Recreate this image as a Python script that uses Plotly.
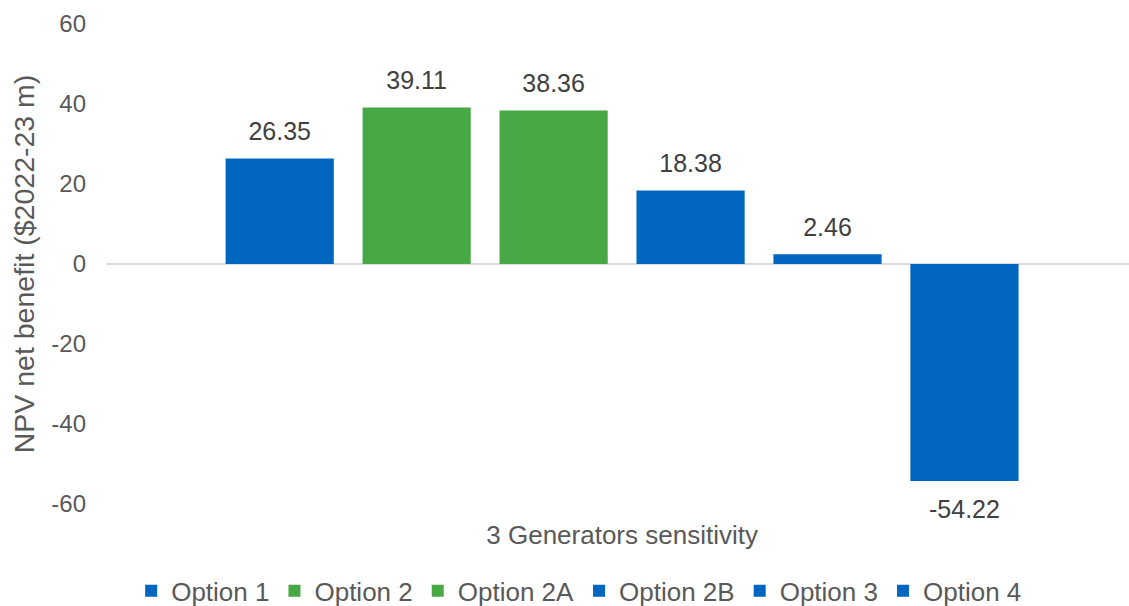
import plotly.graph_objects as go

category = ["3 Generators sensitivity"]
options = ["Option 1", "Option 2", "Option 2A", "Option 2B", "Option 3", "Option 4"]
values = [26.35, 39.11, 38.36, 18.38, 2.46, -54.22]
option_colors = ["#0066C0", "#48A846", "#48A846", "#0066C0", "#0066C0", "#0066C0"]
y_ticks = [-60, -40, -20, 0, 20, 40, 60]
y_tick_labels = ["-60", "-40", "-20", "0", "20", "40", "60"]

FONT = "Liberation Sans, Arial, sans-serif"
TICK_COLOR = "#595959"
LABEL_COLOR = "#404040"

fig = go.Figure()

for name, val, col in zip(options, values, option_colors):
    fig.add_trace(go.Bar(
        x=category, y=[val], name=name, marker=dict(color=col, line=dict(width=0)),
        offsetgroup=name, hoverinfo="skip",
    ))

for name, val in zip(options, values):
    pos = val >= 0
    fig.add_trace(go.Scatter(
        x=category, y=[val], mode="markers+text",
        text=[f"{val:.2f}"],
        textposition="top center" if pos else "bottom center",
        marker=dict(size=18 if pos else 28, opacity=0),
        textfont=dict(family=FONT, size=25, color=LABEL_COLOR),
        offsetgroup=name, showlegend=False, hoverinfo="skip", cliponaxis=False,
    ))

fig.update_layout(
    width=1129, height=606,
    margin=dict(l=107, r=0, t=24, b=102, autoexpand=False),
    paper_bgcolor="white", plot_bgcolor="white",
    barmode="group", bargap=0.196, bargroupgap=0.21,
    scattermode="group", scattergap=0.196,
    font=dict(family=FONT, color=TICK_COLOR, size=24),
    showlegend=True,
    legend=dict(
        orientation="h", xanchor="center", yanchor="middle",
        x=0.462, y=-0.181, font=dict(family=FONT, size=26, color=TICK_COLOR),
        itemwidth=30, traceorder="normal", bgcolor="rgba(0,0,0,0)",
    ),
    xaxis=dict(
        type="category", range=[-0.504, 0.496], showgrid=False, zeroline=False,
        showline=False, ticks="", tickfont=dict(family=FONT, size=26, color=TICK_COLOR),
        ticklabelstandoff=13, automargin=False,
    ),
    yaxis=dict(
        range=[-60, 60], tickvals=y_ticks, ticktext=y_tick_labels, showgrid=False,
        zeroline=True, zerolinecolor="#D9D9D9", zerolinewidth=2,
        showline=False, ticks="", tickfont=dict(family=FONT, size=24, color=TICK_COLOR),
        ticklabelstandoff=20, automargin=False,
        title=dict(text="NPV net benefit ($2022-23 m)", standoff=8,
                   font=dict(family=FONT, size=28.5, color=TICK_COLOR)),
    ),
)

fig.write_html("out.html")
